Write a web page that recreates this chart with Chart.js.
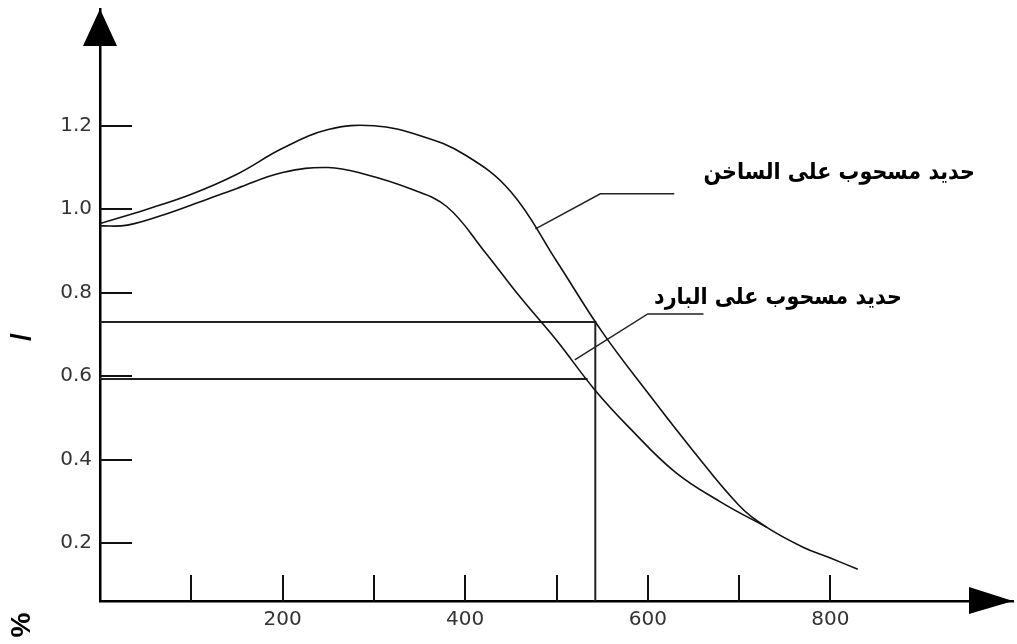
<!DOCTYPE html>
<html>
<head>
<meta charset="utf-8">
<script src="https://cdn.jsdelivr.net/npm/chart.js@4.4.1/dist/chart.umd.min.js"></script>
<style>
  html, body { margin: 0; padding: 0; background: #fff; }
</style>
</head>
<body>
<canvas id="myChart" width="1017" height="644"></canvas>
<script>
// hot drawn steel curve
const hotX = [0, 50, 100, 150, 200, 250, 300, 350, 400, 450, 500, 550, 600, 650, 700, 730, 770, 800, 830];
const hotY = [0.966, 0.999, 1.036, 1.084, 1.146, 1.191, 1.2, 1.177, 1.13, 1.042, 0.876, 0.706, 0.56, 0.42, 0.29, 0.238, 0.19, 0.164, 0.137];

// cold drawn steel curve
const coldX = [0, 30, 70, 110, 150, 200, 250, 290, 340, 380, 420, 460, 500, 542, 580, 630, 680, 730];
const coldY = [0.96, 0.962, 0.987, 1.018, 1.05, 1.088, 1.1, 1.084, 1.049, 1.006, 0.902, 0.79, 0.686, 0.567, 0.476, 0.37, 0.298, 0.238];

// reading lines at x = 542
const readX = 542.5;
const hotRead = 0.73;
const coldRead = 0.593;
const coldReadEnd = 534;

// leader lines to the labels
const hotLeaderX = [477, 548, 629];
const hotLeaderY = [0.953, 1.037, 1.037];
const coldLeaderX = [520, 600, 661];
const coldLeaderY = [0.639, 0.749, 0.749];

const hotLabel = 'حديد مسحوب على الساخن';
const coldLabel = 'حديد مسحوب على البارد';

const xTicks = [100, 200, 300, 400, 500, 600, 700, 800];
const xLabels = [200, 400, 600, 800];
const yTicks = [0.2, 0.4, 0.6, 0.8, 1.0, 1.2];

const yMin = 0.061;
const yMax = 1.48;

const pts = (xs, ys) => xs.map((x, i) => ({ x: x, y: ys[i] }));

const tickFont = { family: '"DejaVu Sans", sans-serif', size: 20 };

// inward tick marks, arrow heads and the text labels
const decor = {
  id: 'decor',
  afterDraw(chart) {
    const { ctx, scales: { x, y }, chartArea: a } = chart;
    ctx.save();
    ctx.strokeStyle = '#111';
    ctx.lineWidth = 2;
    ctx.beginPath();
    y.ticks.forEach(t => {
      const py = Math.round(y.getPixelForValue(t.value));
      ctx.moveTo(a.left, py);
      ctx.lineTo(a.left + 32, py);
    });
    x.ticks.forEach(t => {
      const px = Math.round(x.getPixelForValue(t.value));
      ctx.moveTo(px, a.bottom);
      ctx.lineTo(px, a.bottom - 26);
    });
    ctx.stroke();

    ctx.fillStyle = '#000';
    ctx.beginPath();
    ctx.moveTo(a.left, a.top);
    ctx.lineTo(a.left - 17, a.top + 37);
    ctx.lineTo(a.left + 17, a.top + 37);
    ctx.closePath();
    ctx.fill();
    ctx.beginPath();
    ctx.moveTo(a.right, a.bottom);
    ctx.lineTo(a.right - 44, a.bottom - 14);
    ctx.lineTo(a.right - 44, a.bottom + 13);
    ctx.closePath();
    ctx.fill();

    ctx.font = 'bold 23px "DejaVu Sans", sans-serif';
    ctx.textAlign = 'right';
    ctx.textBaseline = 'middle';
    [[hotLabel, 975, 173], [coldLabel, 902, 298]].forEach(([txt, tx, ty]) => {
      ctx.save();
      ctx.translate(tx, ty);
      ctx.scale(0.9, 1);
      ctx.fillText(txt, 0, 0);
      ctx.restore();
    });

    ctx.font = 'bold 28px "Liberation Sans", Arial, sans-serif';
    ctx.textAlign = 'center';
    ctx.translate(22, 337);
    ctx.rotate(-Math.PI / 2);
    ctx.fillText('/', 0, 0);
    ctx.rotate(Math.PI / 2);
    ctx.translate(0, 288);
    ctx.rotate(-Math.PI / 2);
    ctx.fillText('%', 0, 0);
    ctx.restore();
  }
};

const curve = (data) => ({
  data: data,
  borderColor: '#111',
  borderWidth: 1.6,
  pointRadius: 0,
  tension: 0.4,
  fill: false
});
const straight = (data, w) => ({
  data: data,
  borderColor: '#222',
  borderWidth: w,
  pointRadius: 0,
  tension: 0,
  fill: false
});

new Chart(document.getElementById('myChart'), {
  type: 'line',
  data: {
    datasets: [
      curve(pts(hotX, hotY)),
      curve(pts(coldX, coldY)),
      straight([{ x: 0, y: hotRead }, { x: readX, y: hotRead }, { x: readX, y: yMin }], 2),
      straight([{ x: 0, y: coldRead }, { x: coldReadEnd, y: coldRead }], 2),
      straight(pts(hotLeaderX, hotLeaderY), 1.5),
      straight(pts(coldLeaderX, coldLeaderY), 1.5)
    ]
  },
  options: {
    responsive: false,
    animation: false,
    devicePixelRatio: 1,
    layout: { padding: { top: 9, right: 4, left: 0, bottom: 0 } },
    plugins: { legend: { display: false }, tooltip: { enabled: false } },
    scales: {
      x: {
        type: 'linear',
        min: 0,
        max: 1000,
        afterFit: s => { s.height = 43; s.paddingLeft = 0; s.paddingRight = 0; },
        afterBuildTicks: s => { s.ticks = xTicks.map(v => ({ value: v })); },
        grid: { display: false, drawTicks: false },
        border: { display: true, color: '#000', width: 2.5 },
        ticks: {
          autoSkip: false,
          maxRotation: 0,
          padding: 7,
          color: '#333',
          font: tickFont,
          callback: v => xLabels.includes(v) ? String(v) : ''
        }
      },
      y: {
        type: 'linear',
        min: yMin,
        max: yMax,
        afterFit: s => { s.width = 100; s.paddingTop = 0; s.paddingBottom = 0; },
        afterBuildTicks: s => { s.ticks = yTicks.map(v => ({ value: v })); },
        grid: { display: false, drawTicks: false },
        border: { display: true, color: '#000', width: 2.5 },
        ticks: {
          padding: 8,
          color: '#333',
          font: tickFont,
          callback: v => v.toFixed(1)
        }
      }
    }
  },
  plugins: [decor]
});
</script>
</body>
</html>
